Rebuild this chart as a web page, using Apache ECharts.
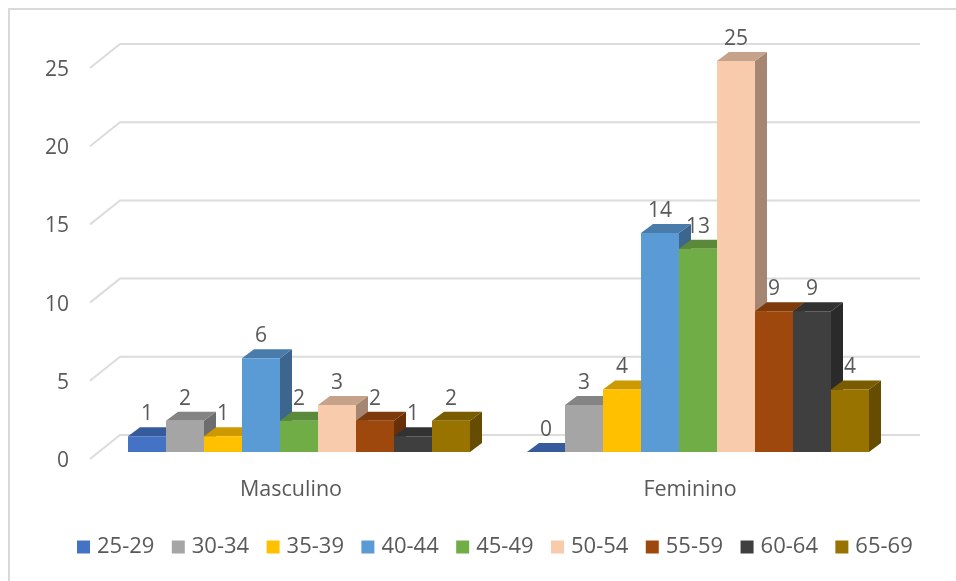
<!DOCTYPE html>
<html>
<head>
<meta charset="utf-8">
<style>html,body{margin:0;padding:0;background:#fff}#c{width:956px;height:581px}</style>
<script src="https://cdn.jsdelivr.net/npm/echarts@6/dist/echarts.min.js"></script>
</head>
<body>
<div id="c"></div>
<script>
var categories = ['Masculino', 'Feminino'];
var ageGroups = ['25-29','30-34','35-39','40-44','45-49','50-54','55-59','60-64','65-69'];
var colors = ['#4472C4','#A5A5A5','#FFC000','#5B9BD5','#70AD47','#F8CBAD','#9E480E','#3F3F3F','#997300'];
var age2529 = [1, 0];
var age3034 = [2, 3];
var age3539 = [1, 4];
var age4044 = [6, 14];
var age4549 = [2, 13];
var age5054 = [3, 25];
var age5559 = [2, 9];
var age6064 = [1, 9];
var age6569 = [2, 4];
var seriesValues = [age2529, age3034, age3539, age4044, age4549, age5054, age5559, age6064, age6569];
var yTicks = [0, 5, 10, 15, 20, 25];

var FONT = '"Open Sans", sans-serif';
var TEXT = '#595959';
var DX = 12, DY = 9;

function shade(hex, k) {
  var n = parseInt(hex.slice(1), 16);
  var r = Math.round((n >> 16 & 255) * k), g = Math.round((n >> 8 & 255) * k), b = Math.round((n & 255) * k);
  return 'rgb(' + r + ',' + g + ',' + b + ')';
}

function barRenderer(idx, color) {
  return function (params, api) {
    var band = api.size([1, 0])[0];
    var w = band / 10.5;
    var v = api.value(1);
    var top = api.coord([api.value(0), v]);
    var base = api.coord([api.value(0), 0]);
    var x0 = top[0] + (idx - 4.5) * w, x1 = x0 + w;
    var yt = top[1], yb = base[1];
    var children = [];
    children.push({ type: 'polygon', shape: { points: [[x1, yb], [x1 + DX, yb - DY], [x1 + DX, yt - DY], [x1, yt]] }, style: { fill: shade(color, 0.66) } });
    children.push({ type: 'polygon', shape: { points: [[x0, yt], [x0 + DX, yt - DY], [x1 + DX, yt - DY], [x1, yt]] }, style: { fill: shade(color, 0.8) } });
    if (yb > yt) children.push({ type: 'rect', shape: { x: x0, y: yt, width: w, height: yb - yt }, style: { fill: color } });
    children.push({ type: 'text', z2: 100, style: { text: String(v), x: (x0 + x1) / 2, y: yt - 22, align: 'center', verticalAlign: 'middle', fill: TEXT, font: '21px ' + FONT } });
    return { type: 'group', children: children };
  };
}

function gridRenderer(params, api) {
  var band = api.size([1, 0])[0];
  var p = api.coord([0, api.value(1)]);
  var left = p[0] - band / 2, right = left + band * 2, y = p[1];
  return {
    type: 'polyline',
    shape: { points: [[left - 9.5, y + 7], [left + 20.5, y - 17], [right + 22.5, y - 17]] },
    style: { stroke: '#dcdcdc', lineWidth: 2, fill: null }
  };
}

var series = [{
  type: 'custom', name: 'grid', silent: true,
  renderItem: gridRenderer,
  encode: { x: 0, y: 1 },
  data: yTicks.map(function (t) { return [0, t]; })
}];
ageGroups.forEach(function (name, i) {
  series.push({
    type: 'custom', name: name,
    itemStyle: { color: colors[i] },
    renderItem: barRenderer(i, colors[i]),
    encode: { x: 0, y: 1 },
    data: seriesValues[i].map(function (v, c) { return [c, v]; })
  });
});

var chart = echarts.init(document.getElementById('c'), null, { renderer: 'canvas' });
chart.setOption({
  animation: false,
  backgroundColor: '#ffffff',
  tooltip: { show: false },
  grid: { left: 99.5, width: 798, top: 61, height: 391 },
  xAxis: {
    type: 'category', data: categories,
    axisLine: { show: false }, axisTick: { show: false }, splitLine: { show: false },
    axisLabel: { color: TEXT, fontFamily: FONT, fontSize: 21.5, margin: 27, padding: [0, 16, 0, 0] }
  },
  yAxis: {
    type: 'value', min: 0, max: 25, interval: 5,
    axisLine: { show: false }, axisTick: { show: false }, splitLine: { show: false },
    axisLabel: { color: TEXT, fontFamily: FONT, fontSize: 21, margin: 30.5, verticalAlign: 'top', lineHeight: 18 }
  },
  legend: {
    data: ageGroups, left: 72, top: 531, orient: 'horizontal',
    icon: 'rect', itemWidth: 13, itemHeight: 13, itemGap: 17.4, selectedMode: false,
    textStyle: { color: TEXT, fontFamily: FONT, fontSize: 22, padding: [0, 0, 0, 2] }
  },
  graphic: [
    { type: 'line', silent: true, shape: { x1: 8, y1: 9, x2: 956, y2: 9 }, style: { stroke: '#d9d9d9', lineWidth: 2 } },
    { type: 'line', silent: true, shape: { x1: 9, y1: 8, x2: 9, y2: 581 }, style: { stroke: '#d9d9d9', lineWidth: 2 } }
  ],
  series: series
});
</script>
</body>
</html>
